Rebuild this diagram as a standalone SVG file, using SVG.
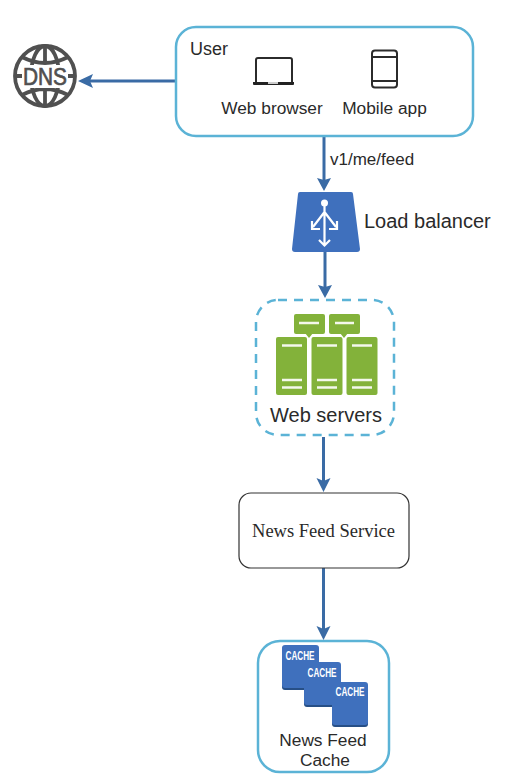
<svg xmlns="http://www.w3.org/2000/svg" width="526" height="782" viewBox="0 0 526 782">
<style>
text{font-family:"Liberation Sans",Arial,sans-serif;fill:#2a2a2a}
.m{text-anchor:middle}
.conn{stroke:#3a6ba5;stroke-width:3;fill:none}
.head{fill:#3a6ba5}
.box{fill:#fff;stroke:#5bb3d6;stroke-width:2.5}
.srv{fill:#83b23a}
.ln{stroke:#f4f8ec;stroke-width:2.400}
.dev{fill:none;stroke:#2b2b2b;stroke-width:2}
.cb{fill:#3f70bd}
.cs{fill:#274f86}
.ct{font-size:12.500px;font-weight:bold;fill:#fff}
.g{fill:none;stroke:#505050;stroke-width:3.800}
</style>
<rect width="526" height="782" fill="#fff"/>
<g id="connectors">
<path class="conn" d="M176 81H90"/><path class="head" d="M78 81l15-7-3 7 3 7z"/>
<path class="conn" d="M324 136V180"/><path class="head" d="M324 191l-7-13 7 2 7-2z"/>
<path class="conn" d="M325 252V288"/><path class="head" d="M325 298l-7-13 7 2 7-2z"/>
<path class="conn" d="M323.500 437V482"/><path class="head" d="M323.500 492l-7-14 7 3 7-3z"/>
<path class="conn" d="M323.500 568V630"/><path class="head" d="M323.500 640l-7-14 7 3 7-3z"/>
</g>
<g id="dns">
<circle class="g" cx="45" cy="76" r="30"/>
<ellipse class="g" cx="45" cy="76" rx="14" ry="30"/>
<path class="g" d="M45 46V106M22 57Q45 69 68 57M22 95Q45 83 68 95"/>
<rect x="20" y="65" width="50" height="23" fill="#fff"/>
<path d="M14 76H22M68 76H76" stroke="#505050" stroke-width="3.800"/>
<text x="23" y="85" font-size="24" textLength="44" lengthAdjust="spacingAndGlyphs" stroke="#505050" stroke-width=".7" style="fill:#505050">DNS</text>
</g>
<g id="user">
<rect class="box" x="176" y="27" width="297" height="109" rx="20"/>
<text x="190" y="55" font-size="18">User</text>
<path class="dev" d="M256 82V60q0-2 2-2h32q2 0 2 2V82"/>
<path d="M253 82H294V84q0 1-1 1H254q-1 0-1-1z" fill="#222"/><rect x="268" y="82" width="10" height="2" fill="#ccc"/>
<rect class="dev" x="372" y="50.500" width="25" height="37" rx="3"/>
<path class="dev" d="M372 57H397M372 81H397" stroke-width="1.500"/>
<text class="m" x="272" y="114" font-size="17.300">Web browser</text>
<text class="m" x="384.500" y="114" font-size="17.300">Mobile app</text>
</g>
<g id="feed-label"><text x="330" y="165" font-size="17">v1/me/feed</text></g>
<g id="load-balancer">
<path d="M300 192H351q2 0 2 2L360 249q0 3-3 3H295q-3 0-3-3L298 194q0-2 2-2z" fill="#3f70bd"/>
<circle cx="324.500" cy="203" r="3.500" fill="#fff"/>
<path d="M324.500 205V245M324.500 212L313 227M324.500 212L336 227M319 240l5.500 5.500 5.500-5.500M312 221V229H320M337 221V229H329" fill="none" stroke="#fff" stroke-width="2.200"/>
<text x="364" y="228" font-size="20">Load balancer</text>
</g>
<g id="web-servers">
<rect x="256" y="300" width="138" height="135" rx="22" fill="#fff" stroke="#5bb3d6" stroke-width="2.500" stroke-dasharray="9 7"/>
<rect class="srv" x="294" y="314" width="31" height="20" rx="2"/><rect class="srv" x="329" y="314" width="31" height="20" rx="2"/>
<path class="srv" d="M305 333h8l-4 5zM340 333h8l-4 5z"/>
<path class="ln" d="M299 323H319M335 323H354"/>
<rect class="srv" x="276" y="337" width="31" height="58" rx="2"/>
<rect class="srv" x="311.500" y="337" width="31" height="58" rx="2"/>
<rect class="srv" x="346.500" y="337" width="31" height="58" rx="2"/>
<path class="ln" d="M282 345.500H302M282 380H302M282 387.500H302M317 345.500H337M317 380H337M317 387.500H337M352 345.500H372M352 380H372M352 387.500H372"/>
<text class="m" x="326" y="422" font-size="20">Web servers</text>
</g>
<g id="news-feed-service">
<rect x="239" y="493" width="170" height="75" rx="12" fill="#fff" stroke="#333" stroke-width="1.200"/>
<text class="m" x="323.500" y="537" font-size="18" textLength="143" lengthAdjust="spacingAndGlyphs" style="font-family:'Liberation Serif','Times New Roman',serif">News Feed Service</text>
</g>
<g id="news-feed-cache">
<rect class="box" x="258" y="641" width="131" height="131" rx="22"/>
<path class="cs" d="M285 647H316q3 0 3 3V664H338q3 0 3 3V684H365q3 0 3 3V724q0 3-3 3H335q-3 0-3-3V707H307q-3 0-3-3V690H285q-3 0-3-3V650q0-3 3-3z"/>
<path class="cb" d="M285 645H316q3 0 3 3V662H338q3 0 3 3V682H365q3 0 3 3V722q0 3-3 3H335q-3 0-3-3V705H307q-3 0-3-3V688H285q-3 0-3-3V648q0-3 3-3z"/>
<text class="ct" x="285.500" y="659.500" textLength="29" lengthAdjust="spacingAndGlyphs">CACHE</text>
<text class="ct" x="307.500" y="677" textLength="29" lengthAdjust="spacingAndGlyphs">CACHE</text>
<text class="ct" x="335.500" y="696" textLength="29" lengthAdjust="spacingAndGlyphs">CACHE</text>
<text class="m" x="323" y="746" font-size="17.300">News Feed</text>
<text class="m" x="325" y="766" font-size="17.300">Cache</text>
</g>
</svg>
